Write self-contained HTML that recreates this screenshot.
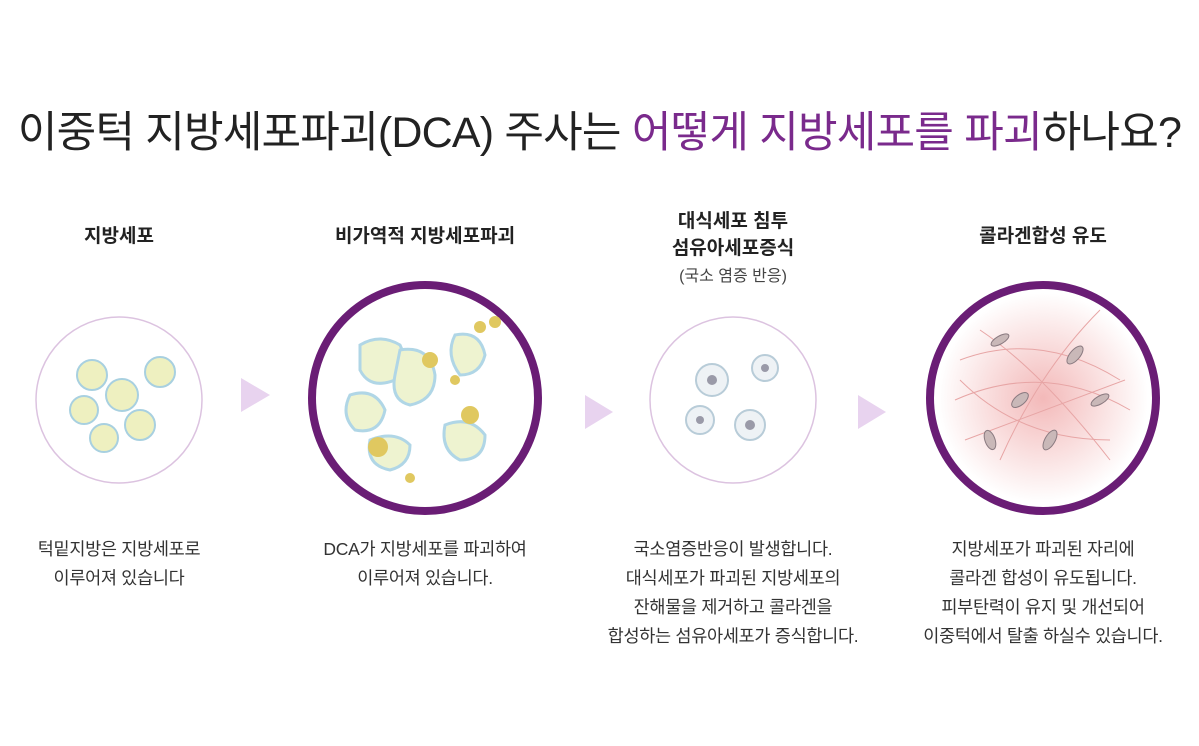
<!DOCTYPE html>
<html><head><meta charset="utf-8"><style>
body{margin:0;width:1199px;height:746px;background:#fff;position:relative;overflow:hidden;font-family:"Liberation Sans","Noto Sans CJK KR",sans-serif;color:#333}
.t{position:absolute;left:0;width:1199px;top:98px;text-align:center;font-size:43px;color:#222;letter-spacing:-0.8px;white-space:nowrap}
.t span{color:#7a2a8c}
.h{position:absolute;text-align:center;font-weight:bold;font-size:19px;color:#222;line-height:27px;width:300px}
.d{position:absolute;text-align:center;font-size:17.5px;color:#333;line-height:29px;width:360px;letter-spacing:-0.3px}
svg{position:absolute;left:0;top:0}
</style></head><body>
<div class="t">이중턱 지방세포파괴(DCA) 주사는 <span>어떻게 지방세포를 파괴</span>하나요?</div>
<div class="h" style="left:-31px;top:223px">지방세포</div>
<div class="h" style="left:275px;top:223px">비가역적 지방세포파괴</div>
<div class="h" style="left:583px;top:208px">대식세포 침투<br>섬유아세포증식<br><span style="font-weight:normal;font-size:16px;color:#444">(국소 염증 반응)</span></div>
<div class="h" style="left:893px;top:223px">콜라겐합성 유도</div>
<svg width="1199" height="746">
<defs><radialGradient id="r" cx="50%" cy="50%" r="50%"><stop offset="0" stop-color="#f3b9b9"/><stop offset="1" stop-color="#fff"/></radialGradient></defs>
<circle cx="119" cy="400" r="83" fill="#fff" stroke="#dcc3e0" stroke-width="1.5"/>
<circle cx="425" cy="398" r="113" fill="#fff" stroke="#6a1d75" stroke-width="8"/>
<circle cx="733" cy="400" r="83" fill="#fff" stroke="#dcc3e0" stroke-width="1.5"/>
<circle cx="1043" cy="398" r="113" fill="#fff" stroke="#6a1d75" stroke-width="8"/>
<polygon points="241,378 270,395 241,412" fill="#e8d3ef"/>
<polygon points="585,395 613,412 585,429" fill="#e8d3ef"/>
<polygon points="858,395 886,412 858,429" fill="#e8d3ef"/>
<g fill="#eef0c0" stroke="#a8d0e0" stroke-width="2">
<circle cx="92" cy="375" r="15"/><circle cx="160" cy="372" r="15"/><circle cx="122" cy="395" r="16"/><circle cx="84" cy="410" r="14"/><circle cx="140" cy="425" r="15"/><circle cx="104" cy="438" r="14"/>
</g>
<g fill="#eef3d0" stroke="#b0d6e6" stroke-width="3">
<path d="M360 345 q20-12 40 0 q10 20-5 35 q-25 10-35-10z"/><path d="M455 335 q25-5 30 20 q-5 20-25 20 q-15-20-5-40z"/><path d="M400 350 q30-5 35 25 q0 25-25 30 q-20-5-15-30z"/><path d="M350 395 q25-8 35 15 q-5 25-30 20 q-15-15-5-35z"/><path d="M370 440 q25-10 40 5 q0 20-20 25 q-25-5-20-30z"/><path d="M445 425 q25-10 40 10 q0 25-25 25 q-20-10-15-35z"/>
</g>
<g fill="#e0c860"><circle cx="430" cy="360" r="8"/><circle cx="480" cy="327" r="6"/><circle cx="495" cy="322" r="6"/><circle cx="378" cy="447" r="10"/><circle cx="470" cy="415" r="9"/><circle cx="455" cy="380" r="5"/><circle cx="410" cy="478" r="5"/></g>
<g fill="#eef2f5" stroke="#b8ccd8" stroke-width="2"><circle cx="712" cy="380" r="16"/><circle cx="765" cy="368" r="13"/><circle cx="700" cy="420" r="14"/><circle cx="750" cy="425" r="15"/></g>
<g fill="#9a9aa8"><circle cx="712" cy="380" r="5"/><circle cx="765" cy="368" r="4"/><circle cx="700" cy="420" r="4"/><circle cx="750" cy="425" r="5"/></g>
<circle cx="1043" cy="398" r="105" fill="url(#r)"/>
<g stroke="#e7a5a5" stroke-width="1" fill="none">
<path d="M960 360 q80 -30 160 20"/><path d="M955 400 q90 -40 175 10"/><path d="M965 440 q80 -30 160 -60"/><path d="M980 330 q60 40 130 130"/><path d="M1000 460 q40 -90 100 -150"/><path d="M960 380 q60 60 150 60"/>
</g>
<g fill="#c9b8b8" stroke="#8a7a80" stroke-width="1">
<ellipse cx="1000" cy="340" rx="10" ry="4" transform="rotate(-30 1000 340)"/><ellipse cx="1075" cy="355" rx="11" ry="5" transform="rotate(-50 1075 355)"/><ellipse cx="1020" cy="400" rx="10" ry="5" transform="rotate(-40 1020 400)"/><ellipse cx="990" cy="440" rx="10" ry="5" transform="rotate(70 990 440)"/><ellipse cx="1100" cy="400" rx="10" ry="4" transform="rotate(-30 1100 400)"/><ellipse cx="1050" cy="440" rx="11" ry="5" transform="rotate(-60 1050 440)"/>
</g>
</svg>
<div class="d" style="left:-61px;top:535px">턱밑지방은 지방세포로<br>이루어져 있습니다</div>
<div class="d" style="left:245px;top:535px">DCA가 지방세포를 파괴하여<br>이루어져 있습니다.</div>
<div class="d" style="left:553px;top:535px">국소염증반응이 발생합니다.<br>대식세포가 파괴된 지방세포의<br>잔해물을 제거하고 콜라겐을<br>합성하는 섬유아세포가 증식합니다.</div>
<div class="d" style="left:863px;top:535px">지방세포가 파괴된 자리에<br>콜라겐 합성이 유도됩니다.<br>피부탄력이 유지 및 개선되어<br>이중턱에서 탈출 하실수 있습니다.</div>
</body></html>
